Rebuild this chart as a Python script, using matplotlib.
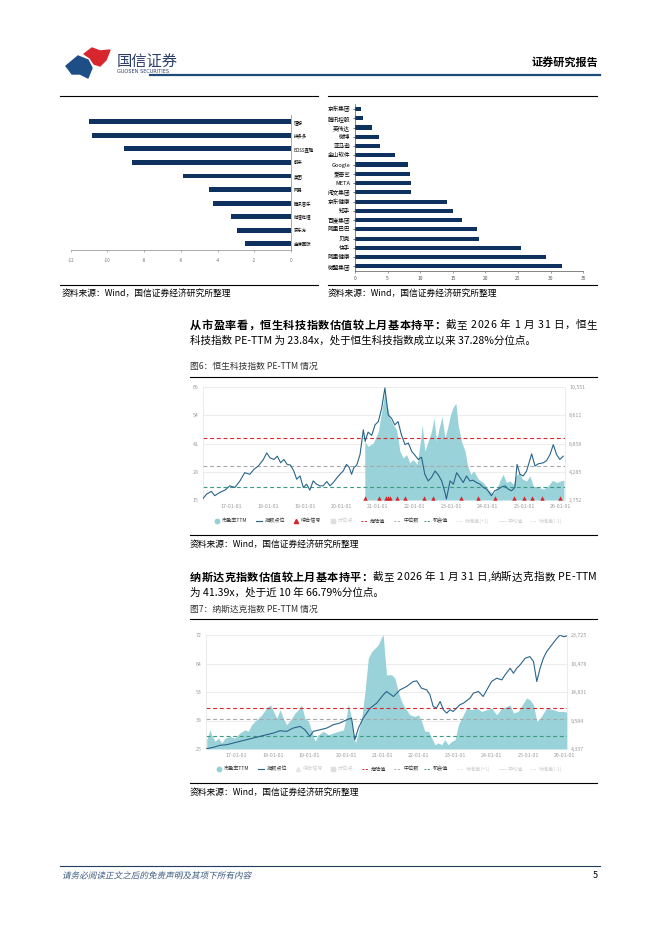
import numpy as np
import matplotlib.pyplot as plt
from matplotlib.patches import Polygon, PathPatch
from matplotlib.textpath import TextPath
from matplotlib.font_manager import FontProperties
from matplotlib.transforms import Affine2D

plt.rcParams['font.family'] = ['Noto Sans CJK SC', 'DejaVu Sans']
plt.rcParams['axes.unicode_minus'] = False

W, H = 662, 936

# ---- top left bar chart ----
left_names = ["理想", "拼多多", "BOSS直聘", "蔚来", "美团", "网易", "腾讯音乐", "哔哩哔哩", "京东方", "金蝶国际"]
left_vals = [-11.0, -10.86, -9.1, -8.66, -5.87, -4.45, -4.23, -3.25, -2.93, -2.51]

# ---- top right bar chart ----
right_names = ["京东集团", "腾讯控股", "英伟达", "微博", "亚马逊", "金山软件", "Google", "爱奇艺", "META",
               "阅文集团", "京东健康", "知乎", "百度集团", "阿里巴巴", "贝壳", "快手", "阿里健康", "微盟集团"]
right_vals = [0.87, 1.28, 2.55, 3.63, 3.78, 6.08, 8.08, 8.43, 8.64, 8.64, 14.1, 15.1, 16.4, 18.7, 19.0,
              25.5, 29.3, 31.7]

# ---- Hang Seng Tech PE-TTM ----
hs_pe_t = [2020.64, 2020.73, 2020.87, 2021.01, 2021.10, 2021.19, 2021.25, 2021.33, 2021.42, 2021.51,
           2021.60, 2021.69, 2021.78, 2021.87, 2021.96, 2022.07, 2022.16, 2022.21, 2022.28, 2022.37,
           2022.46, 2022.53, 2022.60, 2022.67, 2022.75, 2022.83, 2022.90, 2022.98, 2023.06, 2023.13,
           2023.19, 2023.28, 2023.38, 2023.44, 2023.53, 2023.62, 2023.74, 2023.88, 2024.01, 2024.15,
           2024.26, 2024.35, 2024.42, 2024.51, 2024.60, 2024.70, 2024.77, 2024.86, 2024.95, 2025.06,
           2025.15, 2025.24, 2025.38, 2025.52, 2025.65, 2025.77, 2025.88, 2025.99, 2026.08]
hs_pe = [41.5, 39.2, 40.7, 45.9, 54.9, 63.8, 57.8, 51.9, 48.9, 46.7,
         37.0, 34.0, 35.5, 31.8, 33.3, 31.1, 41.5, 48.9, 37.0, 41.5,
         45.9, 51.9, 41.5, 47.4, 52.6, 43.0, 47.4, 53.4, 57.1, 58.6,
         48.9, 41.5, 37.0, 31.1, 26.6, 28.1, 24.4, 22.9, 19.9, 17.7,
         20.7, 24.4, 26.6, 22.9, 23.6, 22.1, 25.9, 27.3, 24.4, 23.6,
         25.9, 21.4, 20.7, 19.9, 21.4, 23.9, 22.9, 23.6, 23.9]
hs_idx_t = [2016.21, 2016.32, 2016.45, 2016.54, 2016.68, 2016.82, 2016.95, 2017.09, 2017.23, 2017.36,
            2017.50, 2017.61, 2017.73, 2017.87, 2017.96, 2018.05, 2018.16, 2018.25, 2018.34, 2018.43,
            2018.52, 2018.61, 2018.70, 2018.78, 2018.87, 2018.96, 2019.05, 2019.14, 2019.23, 2019.32,
            2019.41, 2019.50, 2019.60, 2019.69, 2019.78, 2019.87, 2019.96, 2020.05, 2020.14, 2020.21,
            2020.28, 2020.34, 2020.42, 2020.51, 2020.60, 2020.65, 2020.73, 2020.83, 2020.92, 2021.01,
            2021.10, 2021.19, 2021.28, 2021.37, 2021.46, 2021.55, 2021.64, 2021.74, 2021.83, 2021.92,
            2022.01, 2022.10, 2022.19, 2022.28, 2022.37, 2022.46, 2022.56, 2022.65, 2022.74, 2022.83,
            2022.87, 2022.97, 2023.06, 2023.15, 2023.24, 2023.33, 2023.42, 2023.51, 2023.60, 2023.69,
            2023.79, 2023.88, 2023.97, 2024.10, 2024.19, 2024.29, 2024.38, 2024.47, 2024.56, 2024.65,
            2024.74, 2024.80, 2024.88, 2024.97, 2025.06, 2025.20, 2025.29, 2025.38, 2025.52, 2025.61,
            2025.70, 2025.79, 2025.88, 2025.97, 2026.06]
hs_idx = [2820, 3161, 3343, 3048, 3275, 3434, 3730, 3616, 4071, 4639,
          4526, 4867, 5094, 5549, 6004, 5663, 5549, 5776, 5322, 5549,
          5208, 5162, 4753, 4185, 4412, 3616, 3844, 3434, 4071, 3844,
          3730, 3730, 4025, 3730, 3957, 4253, 4526, 4753, 5208, 5026,
          4526, 4981, 5162, 5890, 7596, 6800, 7436, 7209, 7937, 8164,
          9074, 10484, 8619, 8392, 7937, 8164, 7255, 6572, 6686, 6118,
          5845, 5549, 5708, 4526, 4071, 4298, 4753, 4480, 4071, 3275,
          2820, 4071, 3844, 4639, 4298, 3957, 4412, 4071, 4116, 3957,
          3844, 3616, 3502, 3048, 3389, 3502, 3662, 3730, 3502, 3389,
          3616, 5208, 4526, 4412, 4753, 5936, 5094, 5253, 5322, 5481,
          5890, 6572, 5890, 5549, 5776]
hs_signals = [2020.64, 2021.03, 2021.21, 2021.28, 2021.34, 2021.51, 2021.74, 2022.25, 2022.51, 2023.26,
              2023.72, 2024.21, 2024.72, 2024.98, 2025.22, 2025.47, 2025.97]
hs_levels = {"danger": 43.0, "median": 30.5, "chance": 20.9}
hs_left_ticks = ["15", "28", "41", "54", "66"]
hs_right_ticks = ["2,752", "4,285", "6,858", "8,611", "10,551"]

# ---- NASDAQ PE-TTM ----
nq_pe_t = [2016.18, 2016.27, 2016.31, 2016.41, 2016.50, 2016.59, 2016.68, 2016.82, 2016.95, 2017.09,
           2017.23, 2017.32, 2017.41, 2017.55, 2017.69, 2017.82, 2017.93, 2018.01, 2018.10, 2018.19,
           2018.28, 2018.37, 2018.51, 2018.60, 2018.69, 2018.78, 2018.87, 2018.97, 2019.06, 2019.15,
           2019.24, 2019.38, 2019.51, 2019.65, 2019.79, 2019.93, 2020.02, 2020.06, 2020.13, 2020.20,
           2020.26, 2020.34, 2020.43, 2020.52, 2020.61, 2020.70, 2020.79, 2020.88, 2020.98, 2021.02,
           2021.07, 2021.11, 2021.25, 2021.34, 2021.43, 2021.52, 2021.62, 2021.75, 2021.89, 2021.98,
           2022.07, 2022.16, 2022.26, 2022.35, 2022.44, 2022.53, 2022.62, 2022.71, 2022.80, 2022.90,
           2022.99, 2023.08, 2023.17, 2023.31, 2023.44, 2023.58, 2023.72, 2023.86, 2023.99, 2024.13,
           2024.27, 2024.40, 2024.50, 2024.59, 2024.72, 2024.86, 2024.95, 2025.04, 2025.14, 2025.23,
           2025.32, 2025.41, 2025.50, 2025.68, 2025.82, 2025.96, 2026.05]
nq_pe = [28.8, 32.9, 30.9, 28.2, 29.5, 27.5, 29.5, 30.2, 29.5, 31.6,
         32.9, 32.3, 35.0, 37.1, 39.1, 41.9, 43.2, 40.5, 37.7, 41.2,
         37.7, 35.0, 37.7, 39.8, 41.2, 43.2, 37.7, 36.4, 32.3, 28.2,
         30.9, 32.3, 30.9, 31.6, 32.3, 32.9, 39.1, 43.5, 39.1, 30.9,
         27.5, 32.3, 37.7, 48.7, 62.4, 65.1, 66.5, 67.9, 71.3, 72.0,
         62.4, 55.6, 55.6, 54.2, 48.7, 44.6, 41.9, 39.1, 38.4, 39.1,
         36.4, 32.3, 32.3, 29.5, 26.8, 27.5, 26.8, 28.8, 26.8, 28.2,
         28.8, 35.0, 37.7, 41.9, 41.2, 41.9, 40.5, 41.2, 41.9, 39.1,
         41.9, 42.5, 43.2, 39.8, 40.5, 43.9, 46.0, 45.3, 43.2, 36.4,
         37.7, 39.8, 41.9, 41.2, 40.5, 40.5, 40.2]
nq_idx_t = [2016.18, 2016.36, 2016.54, 2016.73, 2016.91, 2017.09, 2017.27, 2017.46, 2017.64, 2017.82,
            2018.01, 2018.19, 2018.37, 2018.55, 2018.74, 2018.87, 2019.01, 2019.10, 2019.29, 2019.47,
            2019.65, 2019.83, 2020.02, 2020.15, 2020.24, 2020.34, 2020.47, 2020.66, 2020.84, 2021.02,
            2021.11, 2021.30, 2021.48, 2021.66, 2021.84, 2021.94, 2022.07, 2022.21, 2022.30, 2022.39,
            2022.48, 2022.58, 2022.67, 2022.76, 2022.85, 2022.94, 2023.03, 2023.12, 2023.22, 2023.40,
            2023.49, 2023.63, 2023.76, 2023.86, 2023.99, 2024.13, 2024.27, 2024.36, 2024.50, 2024.59,
            2024.68, 2024.77, 2024.91, 2025.04, 2025.14, 2025.23, 2025.32, 2025.41, 2025.50, 2025.64,
            2025.78, 2025.87, 2025.96, 2026.05]
nq_idx = [4394, 4620, 4959, 5072, 5354, 5637, 5920, 6202, 6485, 6767,
          7050, 7446, 7333, 7898, 8180, 7615, 6485, 7333, 7615, 7898,
          8463, 8746, 9311, 9593, 5920, 7898, 9593, 11289, 12137, 13550,
          14115, 13267, 14398, 14963, 15811, 15924, 14680, 14398, 13550, 11571,
          11289, 12419, 11006, 10441, 11006, 10724, 11289, 11854, 12137, 12985,
          13832, 14115, 13267, 14398, 15811, 16376, 16093, 16941, 18071, 17224,
          18071, 18637, 19767, 20050, 19202, 15811, 18071, 19767, 20897, 22027,
          23158, 23723, 23441, 23554]
nq_levels = {"danger": 41.85, "median": 37.5, "chance": 30.3}
nq_left_ticks = ["25", "38", "53", "64", "72"]
nq_right_ticks = ["4,337", "9,584", "14,831", "18,478", "23,725"]

year_ticks = list(range(2017, 2027))

NAVY = "#0e3160"
TEAL = "#95d0d7"
LINE = "#2a6489"
RED = "#d7262c"
GRAY = "#a8a8a8"
GREEN = "#3b9a80"
TICK = "#9a9a9a"
BODY = 7.6
BOLD = 8.0


def px_axes(fig, x0, y0, x1, y1):
    return fig.add_axes([x0 / W, 1 - y1 / H, (x1 - x0) / W, (y1 - y0) / H])


fig = plt.figure(figsize=(W / 100, H / 100), dpi=100)
page = fig.add_axes([0, 0, 1, 1])
page.set_xlim(0, W)
page.set_ylim(H, 0)
page.axis("off")
renderer = fig.canvas.get_renderer()

# header
page.add_patch(Polygon([(66, 66), (78, 56), (88, 60), (92, 68), (88, 78), (80, 74), (72, 74)],
                       closed=True, color="#1d4f86"))
page.add_patch(Polygon([(84, 54), (92, 48), (100, 51), (110, 50), (106, 60), (100, 66), (94, 64), (90, 58)],
                       closed=True, color="#d8262e"))
page.text(117, 61, "国信证券", fontsize=11, color="#2c3e6b", va="center")
page.text(117, 71.5, "GUOSEN SECURITIES", fontsize=3.6, color="#2c3e6b", va="center", family="DejaVu Sans")
page.plot([150, 600], [74.5, 74.5], color="#1f4b7a", lw=1.6)
page.text(598, 62, "证券研究报告", fontsize=8, fontweight="bold", ha="right", va="center")

# rules around the top charts
for xa, xb in [(60, 318), (328, 597)]:
    page.plot([xa, xb], [95.5, 95.5], color="black", lw=0.8)
    page.plot([xa, xb], [284.5, 284.5], color="black", lw=0.8)
src = "资料来源：Wind，国信证券经济研究所整理"
page.text(62, 293, src, fontsize=6.3, va="center")
page.text(328, 293, src, fontsize=6.3, va="center")

# top-left bars
axl = px_axes(fig, 70.7, 115, 291, 250.5)
yl = np.arange(len(left_vals))
axl.barh(yl, left_vals, height=0.36, color=NAVY)
axl.set_xlim(-12, 0)
axl.set_ylim(len(left_vals) - 0.5, -0.5)
axl.set_xticks(np.arange(-12, 1, 2))
axl.tick_params(axis="x", labelsize=3.3, colors="#777", length=1.5, width=0.4, pad=4)
axl.yaxis.tick_right()
axl.set_yticks(yl)
axl.set_yticklabels(left_names, fontsize=3.2)
axl.tick_params(axis="y", length=0, pad=2)
for s in ["top", "left"]:
    axl.spines[s].set_visible(False)
for s in ["bottom", "right"]:
    axl.spines[s].set_color("#888")
    axl.spines[s].set_linewidth(0.5)
axl.patch.set_alpha(0)

# top-right bars
axr = px_axes(fig, 355, 104.4, 583.3, 271)
yr = np.arange(len(right_vals))
axr.barh(yr, right_vals, height=0.45, color=NAVY)
axr.set_xlim(0, 35)
axr.set_ylim(len(right_vals) - 0.5, -0.5)
axr.set_xticks(np.arange(0, 36, 5))
axr.tick_params(axis="x", labelsize=3.6, colors="#555", length=1.5, width=0.4, pad=2)
axr.set_yticks(yr)
axr.set_yticklabels(right_names, fontsize=4.1)
axr.tick_params(axis="y", length=1.5, width=0.4, pad=2)
for s in ["top", "right"]:
    axr.spines[s].set_visible(False)
for s in ["bottom", "left"]:
    axr.spines[s].set_color("#555")
    axr.spines[s].set_linewidth(0.5)
axr.patch.set_alpha(0)


def justified(y, x0, x1, parts):
    # lay the line out glyph by glyph and spread the slack, like a justified Word line
    glyphs = []
    for text, bold in parts:
        size = BOLD if bold else BODY
        for ch in text:
            t = page.text(0, y, ch, fontsize=size, fontweight="bold" if bold else "normal", va="center")
            glyphs.append((t, t.get_window_extent(renderer=renderer).width if ch != " " else size * 0.35))
    slack = (x1 - x0 - sum(w for _, w in glyphs)) / max(len(glyphs) - 1, 1)
    x = x0
    for t, w in glyphs:
        t.set_x(x)
        x += w + slack


def pe_chart(top, bottom, left, right, t_pe, pe, t_idx, idx, levels, lticks, rticks, xlim, ylim, rlim,
             signals, legend_y, legend_x, faded):
    ax = px_axes(fig, left, top, right, bottom)
    ax.fill_between(t_pe, pe, ylim[0], color=TEAL, lw=0, alpha=0.95)
    ax.axhline(levels["danger"], color=RED, ls=(0, (3.5, 2.5)), lw=0.8)
    ax.axhline(levels["median"], color=GRAY, ls=(0, (3.5, 2.5)), lw=0.8)
    ax.axhline(levels["chance"], color=GREEN, ls=(0, (3.5, 2.5)), lw=0.8)
    ax.set_xlim(*xlim)
    ax.set_ylim(*ylim)
    ax.set_yticks(np.linspace(ylim[0], ylim[1], 5))
    ax.set_yticklabels(lticks)
    ax.set_xticks(year_ticks)
    ax.set_xticklabels([f"{y % 100}-01-01" for y in year_ticks])
    ax.tick_params(labelsize=3.8, colors=TICK, length=0, pad=3)
    ax.grid(axis="y", color="#e9e9e9", lw=0.6)
    ax.set_axisbelow(True)
    for s in ax.spines.values():
        s.set_color("#e3e3e3")
        s.set_linewidth(0.5)
    ax.spines["top"].set_visible(False)
    ax.spines["bottom"].set_visible(False)
    if signals:
        ax.plot(signals, [ylim[0] + 0.9] * len(signals), "^", color=RED, ms=3.2, mew=0, clip_on=False)
    ax2 = ax.twinx()
    ax2.plot(t_idx, idx, color=LINE, lw=0.8)
    ax2.set_ylim(*rlim)
    ax2.set_yticks(np.linspace(rlim[0], rlim[1], 5))
    ax2.set_yticklabels(rticks)
    ax2.tick_params(labelsize=3.8, colors=TICK, length=0, pad=3)
    for s in ax2.spines.values():
        s.set_visible(False)

    # legend
    items = [("dot", "市盈率TTM"), ("line", "指数点位"), ("tri", "综合信号"), ("sq", "分位点"),
             ("dr", "危险值"), ("dg", "中位数"), ("dgr", "机会值"), ("df", "标准差(+1)"),
             ("lf", "平均值"), ("df", "标准差(-1)")]
    for (kind, lab), x in zip(items, legend_x):
        fade = lab in faded
        col_t = "#cfcfcf" if fade else "#333"
        y = legend_y
        if kind == "dot":
            page.plot([x], [y], "o", color=TEAL if not fade else "#e0e0e0", ms=3.2)
        elif kind == "line":
            page.plot([x - 4, x + 2], [y, y], color=LINE, lw=0.8)
        elif kind == "tri":
            page.plot([x], [y], "^", color="#e6e6e6" if fade else RED, ms=3)
        elif kind == "sq":
            page.plot([x], [y], "s", color="#dedede", ms=3)
        else:
            c = {"dr": RED, "dg": GRAY, "dgr": GREEN, "df": "#e2e2e2", "lf": "#e2e2e2"}[kind]
            ls = "-" if kind == "lf" else (0, (2, 1.5))
            page.plot([x - 4, x + 2], [y, y], color=c, lw=0.7, ls=ls)
        page.text(x + 5, y, lab, fontsize=3.7, color=col_t, va="center")
    return ax


# paragraph 1
justified(325, 190, 597, [("从市盈率看，恒生科技指数估值较上月基本持平：", True),
                          ("截至 2026 年 1 月 31 日，恒生", False)])
page.text(190, 340, "科技指数 PE-TTM 为 23.84x，处于恒生科技指数成立以来 37.28%分位点。", fontsize=BODY, va="center")
page.text(190, 366, "图6：恒生科技指数 PE-TTM 情况", fontsize=6.3, color="#333", va="center")
page.plot([190, 597], [377, 377], color="black", lw=0.8)

pe_chart(387, 500, 203, 565, hs_pe_t, hs_pe, hs_idx_t, hs_idx, hs_levels, hs_left_ticks, hs_right_ticks,
         (2016.22, 2026.11), (15, 66), (2752, 10551), hs_signals, 521,
         [217, 260, 296, 333, 365, 398, 428, 460, 503, 534],
         ["分位点", "标准差(+1)", "平均值", "标准差(-1)"])

page.plot([190, 597], [535, 535], color="black", lw=0.8)
page.text(190, 544, src, fontsize=6.3, va="center")

# paragraph 2
justified(577, 190, 597, [("纳斯达克指数估值较上月基本持平：", True),
                          ("截至 2026 年 1 月 31 日,纳斯达克指数 PE-TTM", False)])
page.text(190, 592, "为 41.39x，处于近 10 年 66.79%分位点。", fontsize=BODY, va="center")
page.text(190, 609, "图7：纳斯达克指数 PE-TTM 情况", fontsize=6.3, color="#333", va="center")
page.plot([190, 597], [619, 619], color="black", lw=0.8)

pe_chart(635, 749, 206, 566.7, nq_pe_t, nq_pe, nq_idx_t, nq_idx, nq_levels, nq_left_ticks, nq_right_ticks,
         (2016.16, 2026.05), (25, 72), (4337, 23725), None, 769,
         [219, 262, 298, 333, 366, 398, 428, 461, 503, 534],
         ["综合信号", "分位点", "标准差(+1)", "平均值", "标准差(-1)"])

page.plot([190, 597], [783, 783], color="black", lw=0.8)
page.text(190, 792, src, fontsize=6.3, va="center")

# footer, slanted like the italic original
page.plot([60, 600], [866, 866], color="#1f3d5c", lw=0.8)
fp = FontProperties(family="Noto Sans CJK SC", size=8.6)
tp = TextPath((0, 0), "请务必阅读正文之后的免责声明及其项下所有内容", prop=fp)
tr = Affine2D().skew_deg(12, 0).scale(1, -1).translate(62, 878.5)
page.add_patch(PathPatch(tr.transform_path(tp), color="#3d5a80", lw=0))
page.text(598, 875, "5", fontsize=6.5, ha="right", va="center")

fig.savefig("out.png", dpi=100)
